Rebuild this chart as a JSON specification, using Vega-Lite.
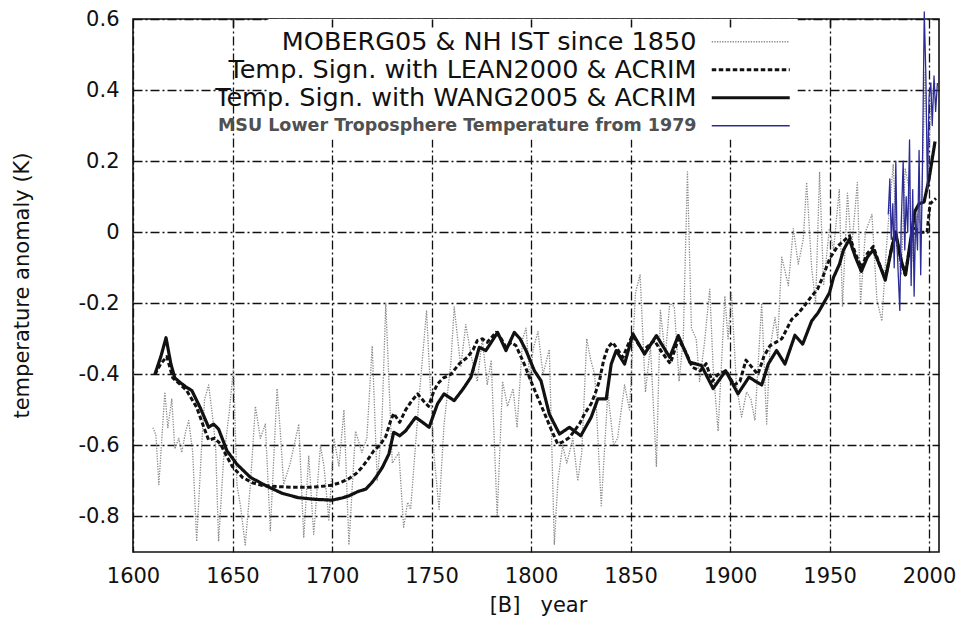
{
"$schema":"https://vega.github.io/schema/vega-lite/v6.json",
"width":806,"height":533,
"autosize":{"type":"none"},
"padding":{"left":133,"top":19,"right":28,"bottom":78},
"background":"white",
"config":{"view":{"stroke":"#111","strokeWidth":1.6},"font":"DejaVu Sans"},
"resolve":{"axis":{"x":"independent","y":"independent"}},
"layer":[
{"data":{"values":[{"x1":1668,"x2":1934,"y1":0.26,"y2":0.6}]},
 "mark":{"type":"rect","fill":"white","strokeWidth":0},
 "encoding":{
  "x":{"field":"x1","type":"quantitative","scale":{"domain":[1600,2005],"nice":false,"zero":false},
       "axis":{"orient":"top","labels":false,"ticks":true,"tickSize":-8,"tickColor":"#111","tickWidth":1.5,"domain":false,"grid":false,"values":[1650,1700,1750,1800,1850,1900,1950],"title":null,"zindex":1}},
  "x2":{"field":"x2"},
  "y":{"field":"y1","type":"quantitative","scale":{"domain":[-0.9,0.6],"nice":false,"zero":false},"axis":null},
  "y2":{"field":"y2"}
 }},
{"data":{"values":[
{"s":"A","x":1610,"y":-0.55},{"s":"A","x":1611.5,"y":-0.57},{"s":"A","x":1613,"y":-0.71},{"s":"A","x":1614.5,"y":-0.58},{"s":"A","x":1616,"y":-0.45},{"s":"A","x":1617.5,"y":-0.55},{"s":"A","x":1619.5,"y":-0.47},{"s":"A","x":1621,"y":-0.61},{"s":"A","x":1623,"y":-0.58},{"s":"A","x":1624.5,"y":-0.62},{"s":"A","x":1626.5,"y":-0.56},{"s":"A","x":1628,"y":-0.53},{"s":"A","x":1630,"y":-0.62},{"s":"A","x":1632,"y":-0.87},{"s":"A","x":1634.5,"y":-0.6},{"s":"A","x":1636,"y":-0.47},{"s":"A","x":1638,"y":-0.43},{"s":"A","x":1640,"y":-0.52},{"s":"A","x":1641.5,"y":-0.6},{"s":"A","x":1643,"y":-0.87},{"s":"A","x":1645.5,"y":-0.64},{"s":"A","x":1648.5,"y":-0.5},{"s":"A","x":1650.5,"y":-0.38},{"s":"A","x":1652.2,"y":-0.71},{"s":"A","x":1654,"y":-0.77},{"s":"A","x":1656.4,"y":-0.88},{"s":"A","x":1659,"y":-0.71},{"s":"A","x":1661.5,"y":-0.49},{"s":"A","x":1664,"y":-0.58},{"s":"A","x":1666.5,"y":-0.54},{"s":"A","x":1669,"y":-0.84},{"s":"A","x":1672.4,"y":-0.44},{"s":"A","x":1674,"y":-0.56},{"s":"A","x":1675.7,"y":-0.71},{"s":"A","x":1679,"y":-0.65},{"s":"A","x":1683.3,"y":-0.54},{"s":"A","x":1685.8,"y":-0.86},{"s":"A","x":1688.3,"y":-0.63},{"s":"A","x":1690.8,"y":-0.85},{"s":"A","x":1694.2,"y":-0.6},{"s":"A","x":1696,"y":-0.66},{"s":"A","x":1698.4,"y":-0.81},{"s":"A","x":1701,"y":-0.58},{"s":"A","x":1703.5,"y":-0.66},{"s":"A","x":1706,"y":-0.5},{"s":"A","x":1708.5,"y":-0.88},{"s":"A","x":1711.8,"y":-0.56},{"s":"A","x":1715,"y":-0.62},{"s":"A","x":1717.5,"y":-0.58},{"s":"A","x":1720.2,"y":-0.32},{"s":"A","x":1722.7,"y":-0.7},{"s":"A","x":1725,"y":-0.55},{"s":"A","x":1727,"y":-0.2},{"s":"A","x":1730.3,"y":-0.65},{"s":"A","x":1733.6,"y":-0.62},{"s":"A","x":1736,"y":-0.83},{"s":"A","x":1738,"y":-0.76},{"s":"A","x":1739.5,"y":-0.78},{"s":"A","x":1742.5,"y":-0.56},{"s":"A","x":1744,"y":-0.45},{"s":"A","x":1747.5,"y":-0.22},{"s":"A","x":1749.5,"y":-0.45},{"s":"A","x":1751.3,"y":-0.63},{"s":"A","x":1753.8,"y":-0.78},{"s":"A","x":1756.3,"y":-0.54},{"s":"A","x":1759.7,"y":-0.37},{"s":"A","x":1761.4,"y":-0.21},{"s":"A","x":1764.7,"y":-0.38},{"s":"A","x":1767.2,"y":-0.26},{"s":"A","x":1770,"y":-0.35},{"s":"A","x":1773,"y":-0.42},{"s":"A","x":1775.5,"y":-0.3},{"s":"A","x":1778,"y":-0.43},{"s":"A","x":1780,"y":-0.36},{"s":"A","x":1783,"y":-0.8},{"s":"A","x":1785.7,"y":-0.42},{"s":"A","x":1788.2,"y":-0.49},{"s":"A","x":1791,"y":-0.44},{"s":"A","x":1793,"y":-0.55},{"s":"A","x":1795.8,"y":-0.3},{"s":"A","x":1797.5,"y":-0.27},{"s":"A","x":1799.5,"y":-0.42},{"s":"A","x":1801,"y":-0.33},{"s":"A","x":1803.5,"y":-0.28},{"s":"A","x":1806,"y":-0.4},{"s":"A","x":1809.2,"y":-0.33},{"s":"A","x":1811.7,"y":-0.88},{"s":"A","x":1813.5,"y":-0.7},{"s":"A","x":1815.9,"y":-0.6},{"s":"A","x":1818,"y":-0.65},{"s":"A","x":1821,"y":-0.58},{"s":"A","x":1823.5,"y":-0.7},{"s":"A","x":1825.5,"y":-0.62},{"s":"A","x":1828,"y":-0.3},{"s":"A","x":1830,"y":-0.36},{"s":"A","x":1832,"y":-0.4},{"s":"A","x":1835.3,"y":-0.77},{"s":"A","x":1838.6,"y":-0.45},{"s":"A","x":1841.5,"y":-0.6},{"s":"A","x":1843.5,"y":-0.58},{"s":"A","x":1847,"y":-0.43},{"s":"A","x":1849.5,"y":-0.5},{"s":"A","x":1852.5,"y":-0.17},{"s":"A","x":1854.8,"y":-0.12},{"s":"A","x":1857.5,"y":-0.45},{"s":"A","x":1860,"y":-0.32},{"s":"A","x":1863,"y":-0.66},{"s":"A","x":1865,"y":-0.22},{"s":"A","x":1867.5,"y":-0.35},{"s":"A","x":1869.7,"y":-0.2},{"s":"A","x":1872,"y":-0.21},{"s":"A","x":1874.4,"y":-0.42},{"s":"A","x":1876.5,"y":-0.3},{"s":"A","x":1878.6,"y":0.17},{"s":"A","x":1880.6,"y":-0.27},{"s":"A","x":1883,"y":-0.3},{"s":"A","x":1884.7,"y":-0.42},{"s":"A","x":1887.2,"y":-0.31},{"s":"A","x":1889.8,"y":-0.16},{"s":"A","x":1891.5,"y":-0.38},{"s":"A","x":1894,"y":-0.56},{"s":"A","x":1897.4,"y":-0.18},{"s":"A","x":1899,"y":-0.3},{"s":"A","x":1900.7,"y":-0.17},{"s":"A","x":1903.2,"y":-0.43},{"s":"A","x":1905.8,"y":-0.52},{"s":"A","x":1908.3,"y":-0.45},{"s":"A","x":1910.5,"y":-0.47},{"s":"A","x":1912.5,"y":-0.53},{"s":"A","x":1915.9,"y":-0.2},{"s":"A","x":1918.4,"y":-0.54},{"s":"A","x":1920,"y":-0.33},{"s":"A","x":1922.6,"y":-0.24},{"s":"A","x":1924,"y":-0.3},{"s":"A","x":1926,"y":-0.07},{"s":"A","x":1929.3,"y":-0.15},{"s":"A","x":1931.8,"y":0.01},{"s":"A","x":1934.3,"y":-0.09},{"s":"A","x":1936.8,"y":-0.02},{"s":"A","x":1938.5,"y":0.14},{"s":"A","x":1941,"y":-0.1},{"s":"A","x":1943,"y":-0.2},{"s":"A","x":1945,"y":0.17},{"s":"A","x":1947,"y":-0.15},{"s":"A","x":1949.9,"y":0.01},{"s":"A","x":1952,"y":-0.05},{"s":"A","x":1954.9,"y":0.12},{"s":"A","x":1956.5,"y":-0.21},{"s":"A","x":1959,"y":0.11},{"s":"A","x":1961,"y":-0.05},{"s":"A","x":1964,"y":0.14},{"s":"A","x":1965.6,"y":-0.2},{"s":"A","x":1968,"y":0.0},{"s":"A","x":1971.3,"y":0.05},{"s":"A","x":1973.8,"y":-0.19},{"s":"A","x":1976.3,"y":-0.25},{"s":"A","x":1978.5,"y":-0.05},{"s":"A","x":1980.4,"y":0.09},{"s":"A","x":1982,"y":0.19},{"s":"A","x":1984,"y":-0.05},{"s":"A","x":1986,"y":-0.12},{"s":"A","x":1988,"y":0.18},{"s":"A","x":1990,"y":0.12},{"s":"A","x":1992,"y":-0.08},{"s":"A","x":1994,"y":0.05},{"s":"A","x":1996,"y":0.02},{"s":"A","x":1998,"y":0.45},{"s":"A","x":1999.5,"y":0.15},{"s":"A","x":2001,"y":0.38},{"s":"A","x":2003,"y":0.42},
{"s":"B","x":1611,"y":-0.4},{"s":"B","x":1614,"y":-0.37},{"s":"B","x":1617,"y":-0.35},{"s":"B","x":1620,"y":-0.41},{"s":"B","x":1624,"y":-0.43},{"s":"B","x":1627,"y":-0.446},{"s":"B","x":1632,"y":-0.493},{"s":"B","x":1635,"y":-0.54},{"s":"B","x":1638,"y":-0.585},{"s":"B","x":1641,"y":-0.58},{"s":"B","x":1644,"y":-0.596},{"s":"B","x":1647,"y":-0.63},{"s":"B","x":1650,"y":-0.66},{"s":"B","x":1655,"y":-0.69},{"s":"B","x":1660,"y":-0.705},{"s":"B","x":1665,"y":-0.713},{"s":"B","x":1670,"y":-0.715},{"s":"B","x":1680,"y":-0.718},{"s":"B","x":1690,"y":-0.718},{"s":"B","x":1700,"y":-0.712},{"s":"B","x":1704,"y":-0.705},{"s":"B","x":1708,"y":-0.695},{"s":"B","x":1712,"y":-0.68},{"s":"B","x":1715,"y":-0.662},{"s":"B","x":1718,"y":-0.64},{"s":"B","x":1721,"y":-0.615},{"s":"B","x":1724,"y":-0.6},{"s":"B","x":1727,"y":-0.575},{"s":"B","x":1729.5,"y":-0.53},{"s":"B","x":1731,"y":-0.51},{"s":"B","x":1734,"y":-0.535},{"s":"B","x":1737,"y":-0.5},{"s":"B","x":1740,"y":-0.475},{"s":"B","x":1743,"y":-0.455},{"s":"B","x":1746,"y":-0.475},{"s":"B","x":1748.5,"y":-0.49},{"s":"B","x":1751,"y":-0.45},{"s":"B","x":1753,"y":-0.427},{"s":"B","x":1756,"y":-0.41},{"s":"B","x":1759.7,"y":-0.4},{"s":"B","x":1764,"y":-0.37},{"s":"B","x":1768,"y":-0.352},{"s":"B","x":1771,"y":-0.33},{"s":"B","x":1773,"y":-0.305},{"s":"B","x":1775.5,"y":-0.3},{"s":"B","x":1778,"y":-0.31},{"s":"B","x":1782.4,"y":-0.282},{"s":"B","x":1785,"y":-0.3},{"s":"B","x":1787.4,"y":-0.324},{"s":"B","x":1790,"y":-0.31},{"s":"B","x":1792.4,"y":-0.319},{"s":"B","x":1796.6,"y":-0.371},{"s":"B","x":1800,"y":-0.42},{"s":"B","x":1803,"y":-0.46},{"s":"B","x":1807.6,"y":-0.521},{"s":"B","x":1810.5,"y":-0.56},{"s":"B","x":1813.4,"y":-0.596},{"s":"B","x":1816,"y":-0.59},{"s":"B","x":1819.3,"y":-0.578},{"s":"B","x":1824.3,"y":-0.54},{"s":"B","x":1827,"y":-0.51},{"s":"B","x":1830.2,"y":-0.483},{"s":"B","x":1832.5,"y":-0.45},{"s":"B","x":1834.4,"y":-0.418},{"s":"B","x":1836.5,"y":-0.36},{"s":"B","x":1838.6,"y":-0.324},{"s":"B","x":1841,"y":-0.31},{"s":"B","x":1843.5,"y":-0.33},{"s":"B","x":1846.2,"y":-0.352},{"s":"B","x":1848.5,"y":-0.32},{"s":"B","x":1851,"y":-0.29},{"s":"B","x":1856.2,"y":-0.333},{"s":"B","x":1862,"y":-0.305},{"s":"B","x":1866,"y":-0.34},{"s":"B","x":1870,"y":-0.37},{"s":"B","x":1874,"y":-0.3},{"s":"B","x":1878,"y":-0.34},{"s":"B","x":1881,"y":-0.38},{"s":"B","x":1885,"y":-0.39},{"s":"B","x":1888,"y":-0.37},{"s":"B","x":1891,"y":-0.42},{"s":"B","x":1894,"y":-0.4},{"s":"B","x":1898,"y":-0.39},{"s":"B","x":1902,"y":-0.43},{"s":"B","x":1905,"y":-0.42},{"s":"B","x":1908,"y":-0.36},{"s":"B","x":1911,"y":-0.38},{"s":"B","x":1914,"y":-0.4},{"s":"B","x":1917,"y":-0.35},{"s":"B","x":1920,"y":-0.32},{"s":"B","x":1923,"y":-0.31},{"s":"B","x":1926,"y":-0.3},{"s":"B","x":1931,"y":-0.245},{"s":"B","x":1934,"y":-0.23},{"s":"B","x":1937,"y":-0.21},{"s":"B","x":1941,"y":-0.18},{"s":"B","x":1944,"y":-0.16},{"s":"B","x":1947,"y":-0.12},{"s":"B","x":1950,"y":-0.075},{"s":"B","x":1954,"y":-0.04},{"s":"B","x":1957,"y":-0.025},{"s":"B","x":1960,"y":-0.01},{"s":"B","x":1963,"y":-0.06},{"s":"B","x":1966,"y":-0.1},{"s":"B","x":1969,"y":-0.06},{"s":"B","x":1972,"y":-0.04},{"s":"B","x":1975,"y":-0.09},{"s":"B","x":1978,"y":-0.13},{"s":"B","x":1981,"y":-0.05},{"s":"B","x":1983,"y":0.0},{"s":"B","x":1986,"y":-0.08},{"s":"B","x":1988,"y":-0.12},{"s":"B","x":1991,"y":-0.02},{"s":"B","x":1993,"y":0.01},{"s":"B","x":1996,"y":0.0},{"s":"B","x":1999,"y":0.0},{"s":"B","x":2000.5,"y":0.08},{"s":"B","x":2003.5,"y":0.095},
{"s":"C","x":1611,"y":-0.4},{"s":"C","x":1614,"y":-0.35},{"s":"C","x":1616.6,"y":-0.297},{"s":"C","x":1619,"y":-0.37},{"s":"C","x":1621,"y":-0.41},{"s":"C","x":1623.7,"y":-0.423},{"s":"C","x":1626.5,"y":-0.435},{"s":"C","x":1629.6,"y":-0.446},{"s":"C","x":1633.7,"y":-0.493},{"s":"C","x":1638,"y":-0.549},{"s":"C","x":1640.5,"y":-0.54},{"s":"C","x":1643,"y":-0.554},{"s":"C","x":1647.2,"y":-0.615},{"s":"C","x":1652.2,"y":-0.653},{"s":"C","x":1659,"y":-0.69},{"s":"C","x":1667,"y":-0.714},{"s":"C","x":1675,"y":-0.735},{"s":"C","x":1683,"y":-0.747},{"s":"C","x":1692,"y":-0.752},{"s":"C","x":1700,"y":-0.754},{"s":"C","x":1705,"y":-0.748},{"s":"C","x":1708.5,"y":-0.742},{"s":"C","x":1713,"y":-0.73},{"s":"C","x":1717,"y":-0.723},{"s":"C","x":1720,"y":-0.705},{"s":"C","x":1722,"y":-0.69},{"s":"C","x":1725.3,"y":-0.662},{"s":"C","x":1728.6,"y":-0.624},{"s":"C","x":1731,"y":-0.563},{"s":"C","x":1734,"y":-0.573},{"s":"C","x":1737,"y":-0.559},{"s":"C","x":1742,"y":-0.521},{"s":"C","x":1745.5,"y":-0.535},{"s":"C","x":1748.8,"y":-0.549},{"s":"C","x":1753,"y":-0.483},{"s":"C","x":1756.3,"y":-0.455},{"s":"C","x":1761.4,"y":-0.474},{"s":"C","x":1766,"y":-0.44},{"s":"C","x":1769.8,"y":-0.408},{"s":"C","x":1774,"y":-0.324},{"s":"C","x":1777.3,"y":-0.333},{"s":"C","x":1780,"y":-0.31},{"s":"C","x":1783.2,"y":-0.282},{"s":"C","x":1787.4,"y":-0.333},{"s":"C","x":1791.6,"y":-0.282},{"s":"C","x":1794.5,"y":-0.3},{"s":"C","x":1797.5,"y":-0.333},{"s":"C","x":1801.7,"y":-0.39},{"s":"C","x":1805,"y":-0.418},{"s":"C","x":1809.2,"y":-0.512},{"s":"C","x":1814.3,"y":-0.568},{"s":"C","x":1819.3,"y":-0.549},{"s":"C","x":1825,"y":-0.573},{"s":"C","x":1830.2,"y":-0.521},{"s":"C","x":1833.6,"y":-0.469},{"s":"C","x":1837.8,"y":-0.469},{"s":"C","x":1840.3,"y":-0.371},{"s":"C","x":1842.8,"y":-0.333},{"s":"C","x":1847,"y":-0.371},{"s":"C","x":1851.2,"y":-0.286},{"s":"C","x":1857,"y":-0.343},{"s":"C","x":1863,"y":-0.291},{"s":"C","x":1869.7,"y":-0.352},{"s":"C","x":1874,"y":-0.291},{"s":"C","x":1879.8,"y":-0.366},{"s":"C","x":1885.6,"y":-0.375},{"s":"C","x":1891.5,"y":-0.44},{"s":"C","x":1897.8,"y":-0.39},{"s":"C","x":1904,"y":-0.455},{"s":"C","x":1909.5,"y":-0.408},{"s":"C","x":1915.9,"y":-0.43},{"s":"C","x":1919.2,"y":-0.371},{"s":"C","x":1923.4,"y":-0.333},{"s":"C","x":1927.6,"y":-0.371},{"s":"C","x":1932.6,"y":-0.29},{"s":"C","x":1936.5,"y":-0.315},{"s":"C","x":1941,"y":-0.25},{"s":"C","x":1944.2,"y":-0.227},{"s":"C","x":1947,"y":-0.2},{"s":"C","x":1950,"y":-0.17},{"s":"C","x":1952,"y":-0.127},{"s":"C","x":1955,"y":-0.09},{"s":"C","x":1957,"y":-0.05},{"s":"C","x":1960,"y":-0.02},{"s":"C","x":1963,"y":-0.07},{"s":"C","x":1966,"y":-0.11},{"s":"C","x":1969,"y":-0.07},{"s":"C","x":1972,"y":-0.05},{"s":"C","x":1975,"y":-0.09},{"s":"C","x":1978,"y":-0.135},{"s":"C","x":1981,"y":-0.05},{"s":"C","x":1983.2,"y":0.0},{"s":"C","x":1986,"y":-0.08},{"s":"C","x":1988.2,"y":-0.12},{"s":"C","x":1990.5,"y":-0.03},{"s":"C","x":1993,"y":0.06},{"s":"C","x":1995,"y":0.08},{"s":"C","x":1997.5,"y":0.085},{"s":"C","x":2000,"y":0.15},{"s":"C","x":2003,"y":0.255},
{"s":"D","x":1979.5,"y":0.05},{"s":"D","x":1980.3,"y":0.15},{"s":"D","x":1981,"y":-0.02},{"s":"D","x":1981.8,"y":0.08},{"s":"D","x":1982.5,"y":-0.1},{"s":"D","x":1983.3,"y":0.2},{"s":"D","x":1984,"y":-0.05},{"s":"D","x":1985.3,"y":-0.22},{"s":"D","x":1986,"y":0.02},{"s":"D","x":1987,"y":0.2},{"s":"D","x":1987.8,"y":-0.05},{"s":"D","x":1988.5,"y":0.1},{"s":"D","x":1989.3,"y":0.0},{"s":"D","x":1990.2,"y":0.26},{"s":"D","x":1991,"y":-0.15},{"s":"D","x":1991.8,"y":0.12},{"s":"D","x":1992.5,"y":-0.18},{"s":"D","x":1993.3,"y":0.05},{"s":"D","x":1994.2,"y":-0.05},{"s":"D","x":1995,"y":0.23},{"s":"D","x":1995.8,"y":-0.12},{"s":"D","x":1996.6,"y":0.15},{"s":"D","x":1997.6,"y":0.62},{"s":"D","x":1998.4,"y":0.44},{"s":"D","x":1999.2,"y":0.12},{"s":"D","x":2000,"y":0.38},{"s":"D","x":2000.9,"y":0.42},{"s":"D","x":2001.6,"y":0.3},{"s":"D","x":2002.5,"y":0.44},{"s":"D","x":2003.3,"y":0.34},{"s":"D","x":2004.2,"y":0.42}
]},
 "mark":{"type":"line","strokeJoin":"round"},
 "encoding":{
  "x":{"field":"x","type":"quantitative","scale":{"domain":[1600,2005],"nice":false,"zero":false},
       "axis":{"orient":"bottom","values":[1600,1650,1700,1750,1800,1850,1900,1950,2000],"format":"d","labelFlush":false,"labelOverlap":false,"labelFontSize":21,"labelFont":"DejaVu Sans","labelColor":"#111","labelPadding":13,"ticks":false,"domain":false,"grid":true,"gridColor":"#111","gridWidth":1.3,"gridDash":[9,3,2,3],"gridOpacity":1,
               "title":"[B]\u00a0\u00a0\u00a0year","titleFont":"DejaVu Sans","titleFontSize":21,"titleFontWeight":"normal","titleColor":"#111","titleX":405,"titleY":53,"titleAlign":"center","titleBaseline":"middle"}},
  "y":{"field":"y","type":"quantitative","scale":{"domain":[-0.9,0.6],"nice":false,"zero":false},
       "axis":{"orient":"left","values":[-0.8,-0.6,-0.4,-0.2,0,0.2,0.4,0.6],"labelExpr":"replace(format(datum.value,'.1~f'),'\u2212','-')","labelFlush":false,"labelOverlap":false,"labelFontSize":21,"labelFont":"DejaVu Sans","labelColor":"#111","labelPadding":14,"ticks":false,"domain":false,"grid":true,"gridColor":"#111","gridWidth":1.3,"gridDash":[9,3,2,3],"gridOpacity":1,
               "title":"temperature anomaly (K)","titleFont":"DejaVu Sans","titleFontSize":21,"titleFontWeight":"normal","titleColor":"#111","titleX":-111,"titleY":266,"titleAngle":-90,"titleAlign":"center","titleBaseline":"middle"}},
  "color":{"field":"s","type":"nominal","scale":{"domain":["A","B","C","D"],"range":["#8a8a8a","#111111","#111111","#2c2c96"]},
     "legend":{"orient":"none","legendX":605,"legendY":10,"padding":0,"title":null,"symbolType":"M-4,0H4","symbolSize":380,"labelAlign":"right","labelOffset":-67,"labelFont":"DejaVu Sans","labelLimit":800,"rowPadding":1,
       "labelFontSize":{"expr":"datum.value === 'D' ? 17.5 : 25.5"},
       "labelFontWeight":{"expr":"datum.value === 'D' ? 'bold' : 'normal'"},
       "labelColor":{"expr":"datum.value === 'D' ? '#505050' : '#111111'"},
       "labelExpr":"datum.value === 'A' ? 'MOBERG05 & NH IST since 1850' : datum.value === 'B' ? 'Temp. Sign. with LEAN2000 & ACRIM' : datum.value === 'C' ? 'Temp. Sign. with WANG2005 & ACRIM' : 'MSU Lower Troposphere Temperature from 1979'"}},
  "strokeDash":{"field":"s","type":"nominal","scale":{"domain":["A","B","C","D"],"range":[[1.3,1.3],[4.5,2.5],[1,0],[1,0]]}},
  "strokeWidth":{"field":"s","type":"nominal","scale":{"type":"ordinal","domain":["A","B","C","D"],"range":[1.3,3,3.2,1.3]}}
 }}
]
}
